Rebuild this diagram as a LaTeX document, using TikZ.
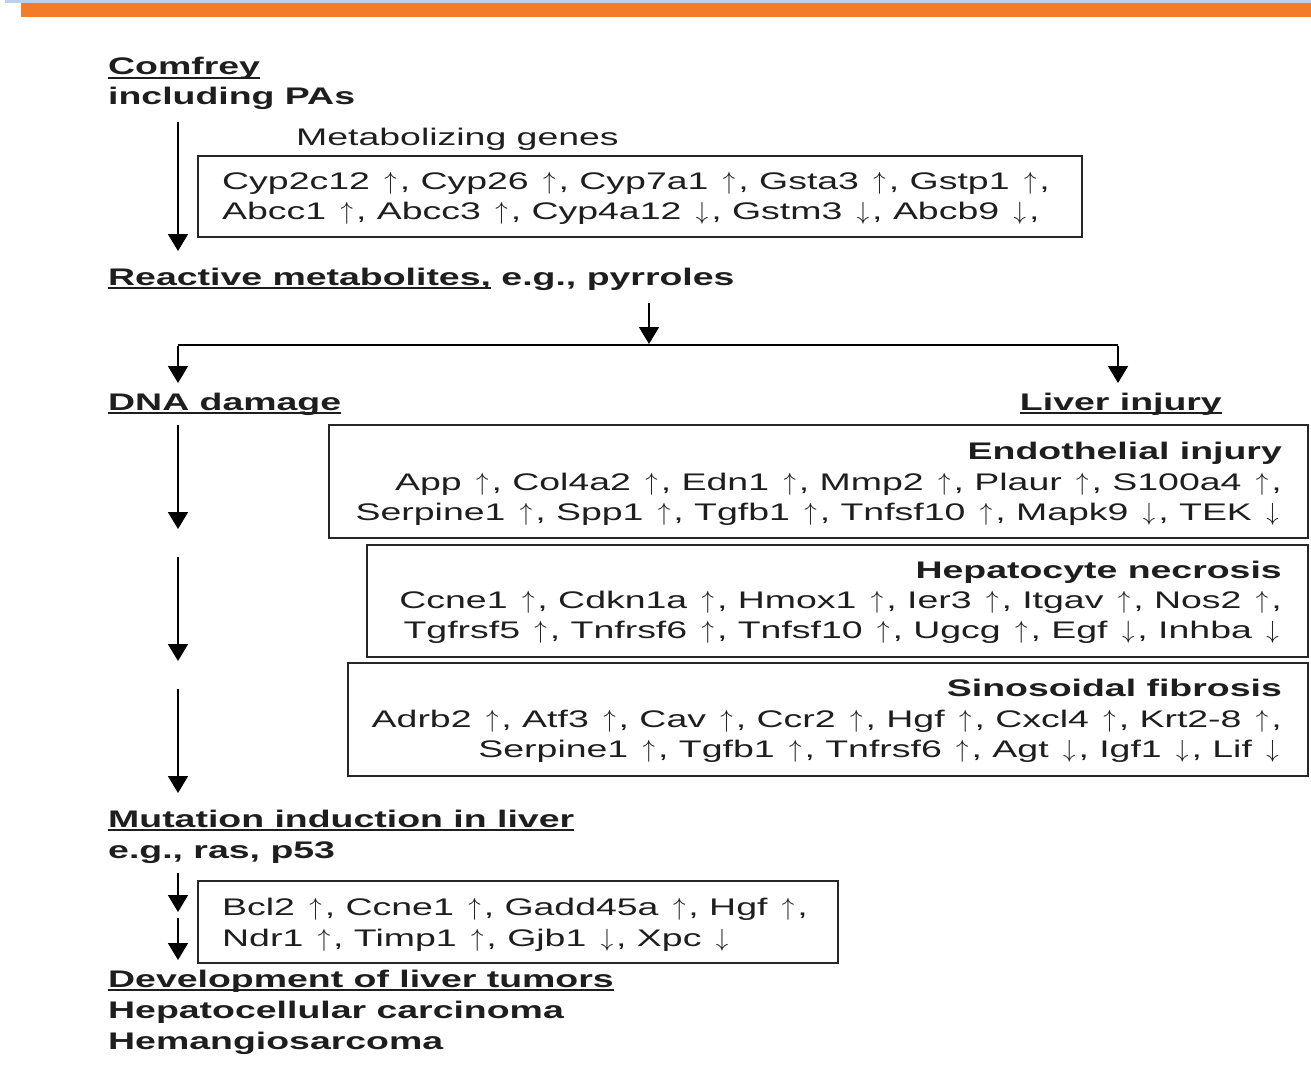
\documentclass[tikz,border=0pt]{standalone}
\usepackage{fontspec}
\setmainfont[FakeStretch=1.56]{Liberation Sans}
\usetikzlibrary{arrows.meta}
\definecolor{barorange}{HTML}{F47B2A}
\definecolor{barblue}{HTML}{BCD2EC}
\definecolor{ink}{HTML}{1E1E1E}
\newcommand\ulin[1]{\setbox0=\hbox{#1}\rlap{\rule[-4pt]{\wd0}{1.8pt}}\box0\relax}
\newcommand\up{\kern4pt\ensuremath{\mathord{\uparrow}}\kern3pt}
\newcommand\dn{\kern4pt\ensuremath{\mathord{\downarrow}}\kern3pt}
\tikzset{
  lbl/.style={inner sep=0pt, anchor=base west, font=\bfseries, text=ink},
  gene/.style={inner sep=0pt, anchor=base west, text=ink},
  genr/.style={inner sep=0pt, anchor=base east, text=ink},
  titr/.style={inner sep=0pt, anchor=base east, font=\bfseries, text=ink},
  gbox/.style={draw=black!85, line width=1.6pt, inner sep=0pt, anchor=north west},
  arr/.style={draw=black, line width=1.8pt, -{Triangle[width=20pt,length=17pt]}},
  plain/.style={draw=black, line width=1.8pt},
}
\begin{document}
\fontsize{24}{30}\selectfont
\begin{tikzpicture}[x=1pt,y=-1pt]
\useasboundingbox (0,0) rectangle (1311,1070);
\fill[barblue] (5,0) rectangle (1311,3);
\fill[barorange] (21,3) rectangle (1311,17);

% top
\node[lbl] (comfrey) at (108,75) {\ulin{Comfrey}};
\node[lbl] (incl) at (108,105) {including PAs};
\node[gene] (metab) at (296,146) {Metabolizing genes};
\node[gbox, minimum width=884pt, minimum height=81pt] (mbox) at (197,155) {};
\node[gene] (m1) at (222,189) {Cyp2c12 \up, Cyp26 \up, Cyp7a1 \up, Gsta3 \up, Gstp1 \up,};
\node[gene] (m2) at (222,219) {Abcc1 \up, Abcc3 \up, Cyp4a12 \dn, Gstm3 \dn, Abcb9 \dn,};
\node[lbl] (react) at (108,285) {\ulin{Reactive metabolites,} e.g., pyrroles};

\coordinate (a1s) at (178,122);
\coordinate (a1e) at (178,251);
\draw[arr] (a1s) -- (a1e);

% split
\coordinate (sps) at (649,303);
\coordinate (spm) at (649,345);
\coordinate (spl) at (178,345);
\coordinate (spr) at (1118,345);
\coordinate (spld) at (178,383);
\coordinate (sprd) at (1118,383);
\draw[arr] (sps) -- ([yshift=1pt]spm);
\draw[plain] (spl) -- (spr);
\draw[arr] ([yshift=-0.9pt]spl) -- (spld);
\draw[arr] ([yshift=-0.9pt]spr) -- (sprd);

\node[lbl] (dna) at (108,410) {\ulin{DNA damage}};
\node[lbl, anchor=base east] (liver) at (1222,410) {\ulin{Liver injury}};

% liver boxes
\node[gbox, minimum width=979pt, minimum height=113pt] (ebox) at (328,424) {};
\node[titr] (et) at (1282,459) {Endothelial injury};
\node[genr] (e1) at (1282,490) {App \up, Col4a2 \up, Edn1 \up, Mmp2 \up, Plaur \up, S100a4 \up,};
\node[genr] (e2) at (1282,520) {Serpine1 \up, Spp1 \up, Tgfb1 \up, Tnfsf10 \up, Mapk9 \dn, TEK \dn};

\node[gbox, minimum width=941pt, minimum height=112pt] (hbox) at (366,544) {};
\node[titr] (ht) at (1282,578) {Hepatocyte necrosis};
\node[genr] (h1) at (1282,608) {Ccne1 \up, Cdkn1a \up, Hmox1 \up, Ier3 \up, Itgav \up, Nos2 \up,};
\node[genr] (h2) at (1282,638) {Tgfrsf5 \up, Tnfrsf6 \up, Tnfsf10 \up, Ugcg \up, Egf \dn, Inhba \dn};

\node[gbox, minimum width=960pt, minimum height=113pt] (sbox) at (347,662) {};
\node[titr] (st) at (1282,696) {Sinosoidal fibrosis};
\node[genr] (s1) at (1282,727) {Adrb2 \up, Atf3 \up, Cav \up, Ccr2 \up, Hgf \up, Cxcl4 \up, Krt2-8 \up,};
\node[genr] (s2) at (1282,757) {Serpine1 \up, Tgfb1 \up, Tnfrsf6 \up, Agt \dn, Igf1 \dn, Lif \dn};

% left column arrows
\coordinate (l1s) at (178,425); \coordinate (l1e) at (178,529);
\coordinate (l2s) at (178,557); \coordinate (l2e) at (178,661);
\coordinate (l3s) at (178,689); \coordinate (l3e) at (178,793);
\draw[arr] (l1s) -- (l1e);
\draw[arr] (l2s) -- (l2e);
\draw[arr] (l3s) -- (l3e);

% bottom
\node[lbl] (mut) at (108,827) {\ulin{Mutation induction in liver}};
\node[lbl] (ras) at (108,858) {e.g., ras, p53};
\coordinate (b1s) at (178,873); \coordinate (b1e) at (178,912);
\coordinate (b2s) at (178,918); \coordinate (b2e) at (178,960);
\draw[arr] (b1s) -- (b1e);
\draw[arr] (b2s) -- (b2e);
\node[gbox, minimum width=640pt, minimum height=82pt] (bbox) at (197,880) {};
\node[gene] (bb1) at (222,915) {Bcl2 \up, Ccne1 \up, Gadd45a \up, Hgf \up,};
\node[gene] (bb2) at (222,946) {Ndr1 \up, Timp1 \up, Gjb1 \dn, Xpc \dn};

\node[lbl] (dev) at (108,987) {\ulin{Development of liver tumors}};
\node[lbl] (hcc) at (108,1018) {Hepatocellular carcinoma};
\node[lbl] (hem) at (108,1049) {Hemangiosarcoma};
\end{tikzpicture}
\end{document}
